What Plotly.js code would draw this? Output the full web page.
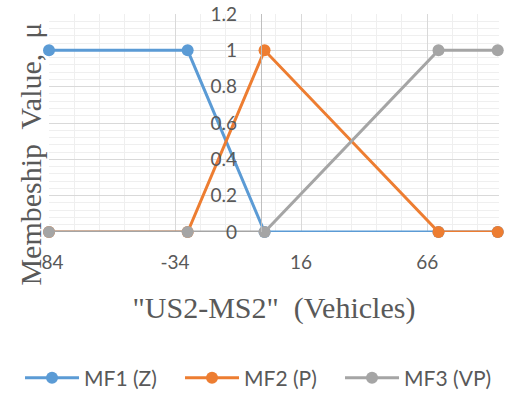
<!DOCTYPE html>
<html>
<head>
<meta charset="utf-8">
<script src="https://cdn.plot.ly/plotly-3.0.1.min.js"></script>
<style>
  html, body { margin: 0; padding: 0; background: #ffffff; }
  #chart { width: 510px; height: 394px; }
</style>
</head>
<body>
<div id="chart"></div>
<script>
// Membership functions of the "US2-MS2" input (vehicles)
const xVals = [-84, -29, 1.5, 70.5, 94];
const mf1Z  = [1, 1, 0, 0, 0];
const mf2P  = [0, 0, 1, 0, 0];
const mf3VP = [0, 0, 0, 1, 1];

const seriesNames = ['MF1 (Z)', 'MF2 (P)', 'MF3 (VP)'];
const xTickVals = [-84, -34, 16, 66];
const xTickText = ['-84', '-34', '16', '66'];

const xMin = -84, xMax = 94.5;
const colors = ['#5B9BD5', '#ED7D31', '#A5A5A5'];
const tickFont = { family: 'Lato, "Open Sans", sans-serif', size: 19, color: '#595959' };
const titleFont = { family: '"Liberation Serif", "Times New Roman", serif', size: 30, color: '#595959' };

const ySeries = [mf1Z, mf2P, mf3VP];
const traces = ySeries.map((ys, i) => ({
  type: 'scatter',
  mode: 'lines+markers',
  name: seriesNames[i],
  x: xVals,
  y: ys,
  line: { color: colors[i], width: 3 },
  marker: { color: colors[i], size: 12 },
  cliponaxis: false
}));

const layout = {
  width: 510,
  height: 394,
  paper_bgcolor: '#ffffff',
  plot_bgcolor: '#ffffff',
  margin: { l: 49, r: 11, t: 14, b: 162, autoexpand: false },
  showlegend: true,
  legend: {
    orientation: 'h',
    xref: 'paper', yref: 'paper',
    x: -0.0644, xanchor: 'left',
    y: -0.6697, yanchor: 'middle',
    font: { family: 'Lato, "Open Sans", sans-serif', size: 21, color: '#595959' },
    itemwidth: 54,
    entrywidth: 91,
    entrywidthmode: 'pixels',
    tracegroupgap: 0
  },
  xaxis: {
    range: [xMin, xMax],
    tickmode: 'array',
    tickvals: xTickVals,
    ticktext: xTickText,
    ticks: '',
    ticklabelstandoff: 17,
    tickfont: tickFont,
    showgrid: true,
    gridcolor: '#D9D9D9',
    gridwidth: 1,
    minor: { dtick: 10, tick0: -84, showgrid: true, gridcolor: '#EFEFEF', gridwidth: 1 },
    zeroline: false,
    showline: false,
    title: { text: '"US2-MS2"&nbsp; (Vehicles)', font: titleFont, standoff: 24 }
  },
  yaxis: {
    range: [0, 1.2],
    dtick: 0.2,
    tick0: 0,
    anchor: 'free',
    position: (0 - xMin) / (xMax - xMin),
    showline: true,
    linecolor: '#BFBFBF',
    linewidth: 1,
    ticks: '',
    ticklabelstandoff: 20,
    tickfont: tickFont,
    showgrid: true,
    gridcolor: '#D9D9D9',
    gridwidth: 1,
    minor: { dtick: 0.04, showgrid: true, gridcolor: '#EFEFEF', gridwidth: 1 },
    zeroline: false
  },
  annotations: [{
    text: 'Membeship&nbsp; Value,&nbsp; μ',
    textangle: -90,
    xref: 'paper', yref: 'paper',
    x: -0.042, y: 0.3555,
    xanchor: 'center', yanchor: 'middle',
    showarrow: false,
    font: titleFont
  }]
};

Plotly.newPlot('chart', traces, layout, { staticPlot: true, displayModeBar: false });
</script>
</body>
</html>
